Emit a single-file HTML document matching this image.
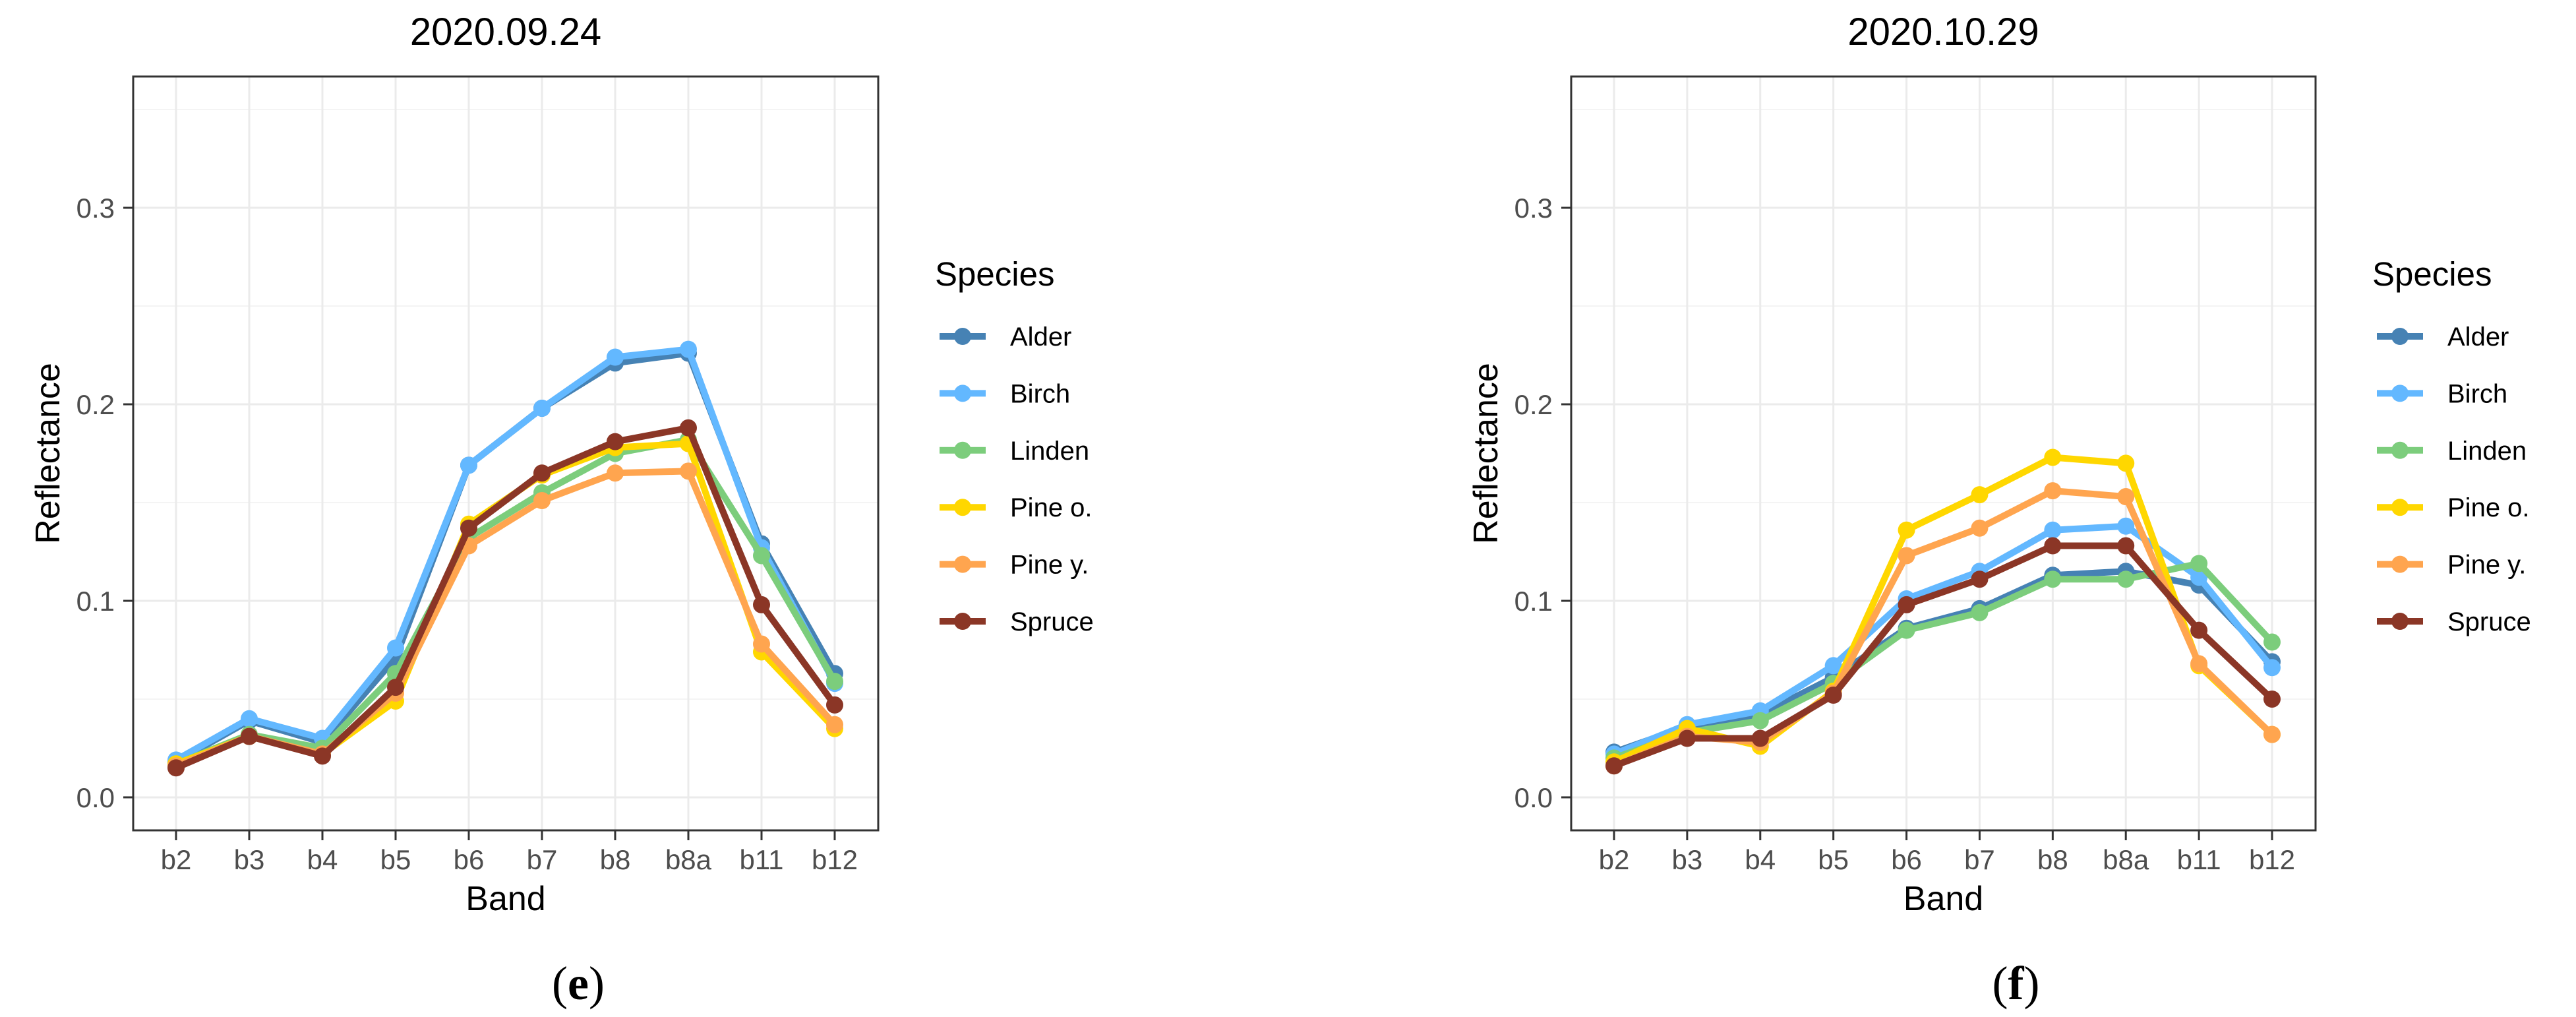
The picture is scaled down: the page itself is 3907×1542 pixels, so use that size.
<!DOCTYPE html>
<html><head><meta charset="utf-8"><style>
html,body{margin:0;padding:0;background:#fff;}
svg{display:block;font-family:"Liberation Sans",sans-serif;}
</style></head><body>
<svg id="chart" width="3907" height="1542" viewBox="0 0 3907 1542" xmlns="http://www.w3.org/2000/svg"></svg>
<script>
const bands = ["b2","b3","b4","b5","b6","b7","b8","b8a","b11","b12"];
const species = ["Alder","Birch","Linden","Pine o.","Pine y.","Spruce"];
const colors = ["#4682b4","#63b8ff","#7ccd7c","#ffd700","#ffa54f","#8b3626"];
const yTicks = [0.0,0.1,0.2,0.3];
const yTickLabels = ["0.0","0.1","0.2","0.3"];
const yMinor = [0.05,0.15,0.25,0.35];
const titles = ["2020.09.24","2020.10.29"];
const captions = ["(e)","(f)"];
const sepAlder = [0.018,0.039,0.028,0.071,0.169,0.198,0.221,0.226,0.129,0.063];
const sepBirch = [0.019,0.040,0.030,0.076,0.169,0.198,0.224,0.228,0.127,0.058];
const sepLinden = [0.017,0.032,0.025,0.063,0.132,0.155,0.175,0.182,0.123,0.059];
const sepPineO = [0.017,0.031,0.022,0.049,0.139,0.164,0.178,0.180,0.074,0.035];
const sepPineY = [0.016,0.031,0.022,0.053,0.128,0.151,0.165,0.166,0.078,0.037];
const sepSpruce = [0.015,0.031,0.021,0.056,0.137,0.165,0.181,0.188,0.098,0.047];
const octAlder = [0.023,0.036,0.042,0.061,0.086,0.096,0.113,0.115,0.108,0.069];
const octBirch = [0.022,0.037,0.044,0.067,0.101,0.115,0.136,0.138,0.112,0.066];
const octLinden = [0.020,0.033,0.039,0.058,0.085,0.094,0.111,0.111,0.119,0.079];
const octPineO = [0.018,0.035,0.026,0.054,0.136,0.154,0.173,0.170,0.067,0.032];
const octPineY = [0.016,0.031,0.028,0.053,0.123,0.137,0.156,0.153,0.068,0.032];
const octSpruce = [0.016,0.030,0.030,0.052,0.098,0.111,0.128,0.128,0.085,0.050];

const svg = document.getElementById('chart');
const NS = "http://www.w3.org/2000/svg";
function mk(tag, attrs, parent){
  const e = document.createElementNS(NS, tag);
  for (const k in attrs) e.setAttribute(k, attrs[k]);
  (parent||svg).appendChild(e);
  return e;
}
const panels = [
  {left:202,right:1332,series:[sepAlder,sepBirch,sepLinden,sepPineO,sepPineY,sepSpruce]},
  {left:2383,right:3512,series:[octAlder,octBirch,octLinden,octPineO,octPineY,octSpruce]}
];
const plotTop = 116, plotBottom = 1259;
const yMin = -0.0168, yMax = 0.3668;
panels.forEach((p, pi) => {
  const g = mk('g', {});
  
  
  const n = bands.length;
  const xs = (i) => p.left + 65 + i * (p.right - p.left - 131) / (n - 1);
  const ys = (v) => plotBottom - (v - yMin) / (yMax - yMin) * (plotBottom - plotTop);
  mk('rect', {x:p.left, y:plotTop, width:p.right-p.left, height:plotBottom-plotTop, fill:'#fff'}, g);
  yMinor.forEach(v => { mk('line', {x1:p.left, x2:p.right, y1:ys(v), y2:ys(v), stroke:'#f0f0f0', 'stroke-width':1.5}, g); });
  yTicks.forEach(v => { mk('line', {x1:p.left, x2:p.right, y1:ys(v), y2:ys(v), stroke:'#ebebeb', 'stroke-width':3}, g); });
  bands.forEach((b, i) => { mk('line', {x1:xs(i), x2:xs(i), y1:plotTop, y2:plotBottom, stroke:'#ebebeb', 'stroke-width':3}, g); });
  p.series.forEach((vals, si) => {
    const pts = vals.map((v, i) => xs(i) + ',' + ys(v)).join(' ');
    const line = mk('polyline', {points:pts, fill:'none', stroke:colors[si], 'stroke-width':10, 'stroke-linejoin':'round'}, g);
    
    
    vals.forEach((v, i) => {
      const c = mk('circle', {cx:xs(i), cy:ys(v), r:13, fill:colors[si]}, g);
      
      
    });
  });
  const frame = mk('rect', {x:p.left, y:plotTop, width:p.right-p.left, height:plotBottom-plotTop, fill:'none', stroke:'#333', 'stroke-width':3}, g);
  
  
  yTicks.forEach((v, i) => {
    mk('line', {x1:p.left-15, x2:p.left, y1:ys(v), y2:ys(v), stroke:'#333', 'stroke-width':3}, g);
    const t = mk('text', {x:p.left-28, y:ys(v)+15, 'text-anchor':'end', 'font-size':42, fill:'#4d4d4d'}, g);
    t.textContent = yTickLabels[i];
    
    
  });
  bands.forEach((b, i) => {
    mk('line', {x1:xs(i), x2:xs(i), y1:plotBottom, y2:plotBottom+15, stroke:'#333', 'stroke-width':3}, g);
    const t = mk('text', {x:xs(i), y:1318, 'text-anchor':'middle', 'font-size':42, fill:'#4d4d4d'}, g);
    t.textContent = b;
    
    
  });
  const cx = (p.left + p.right) / 2;
  const tt = mk('text', {x:cx, y:68, 'text-anchor':'middle', 'font-size':58, fill:'#000'}, g);
  tt.textContent = titles[pi];
  
  
  const xt = mk('text', {x:cx, y:1380, 'text-anchor':'middle', 'font-size':52, fill:'#000'}, g);
  xt.textContent = 'Band';
  
  
  const yty = (plotTop + plotBottom) / 2;
  const ytx = p.left - 112;
  const yt = mk('text', {x:ytx, y:yty, 'text-anchor':'middle', 'font-size':52, fill:'#000', transform:'rotate(-90 ' + ytx + ' ' + yty + ')'}, g);
  yt.textContent = 'Reflectance';
  
  
  const lx = p.right + 86;
  const lg = mk('g', {}, g);
  
  
  const lt = mk('text', {x:lx, y:433, 'font-size':51, fill:'#000'}, lg);
  lt.textContent = 'Species';
  
  
  species.forEach((s, si) => {
    const cy = 510 + si * 86.4;
    const e = mk('g', {}, lg);
    
    
    mk('line', {x1:lx+7, x2:lx+77, y1:cy, y2:cy, stroke:colors[si], 'stroke-width':10}, e);
    mk('circle', {cx:lx+42, cy:cy, r:13, fill:colors[si]}, e);
    const et = mk('text', {x:lx+114, y:cy+14, 'font-size':40, fill:'#000'}, e);
    et.textContent = s;
  });
  const cap = mk('text', {x:cx + 110, y:1515, 'text-anchor':'middle', 'font-size':72, 'font-family':'Liberation Serif, serif', fill:'#000'}, g);
  cap.innerHTML = '(<tspan font-weight="bold">' + captions[pi].slice(1,2) + '</tspan>)';
  
  
});
</script>
</body></html>
